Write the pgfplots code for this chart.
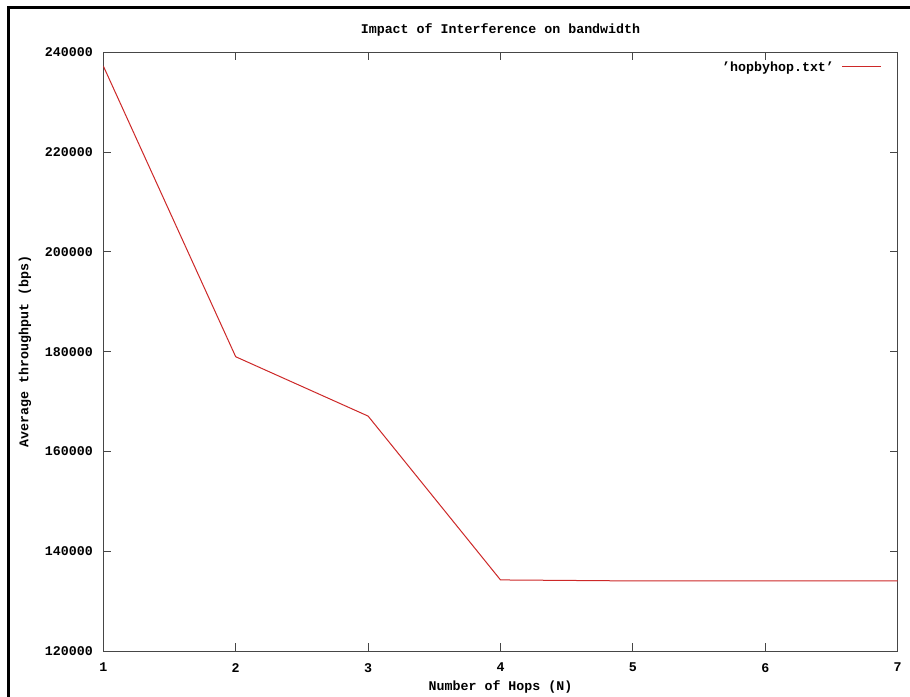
\documentclass[border=0pt]{standalone}
\usepackage{fontspec}
\setmainfont{Liberation Mono}
\usepackage{pgfplots}
\pgfplotsset{compat=1.18}

\definecolor{GRed}{RGB}{205,40,40}
\definecolor{GAxis}{RGB}{70,70,70}

\begin{document}
\begin{tikzpicture}
\useasboundingbox (-103.3pt,-45pt) rectangle (806.7pt,651pt);
\fill[white] (-103.3pt,-45pt) rectangle (806.7pt,651pt);
% outer frame (left and top edges only are visible)
\draw[line width=3.3pt, line cap=rect] (-95pt,-50pt) -- (-95pt,643.3pt) -- (815pt,643.3pt);
\begin{axis}[
  at={(0pt,0pt)}, anchor=south west,
  scale only axis,
  width=794.4pt, height=598.5pt,
  xmin=1, xmax=7, ymin=120000, ymax=240000,
  xtick={1,2,3,4,5,6,7},
  ytick={120000,140000,160000,180000,200000,220000,240000},
  yticklabels={120000,140000,160000,180000,200000,220000,240000},
  scaled y ticks=false,
  tick align=inside,
  major tick length=8pt,
  axis line style={GAxis, line width=1pt},
  tick style={GAxis, line width=1pt},
  font=\fontsize{13.3}{15}\selectfont\bfseries,
  /pgf/number format/assume math mode=true,
  tick label style={font=\fontsize{13.3}{15}\selectfont\bfseries},
  yticklabel style={inner sep=0pt, xshift=-10.3pt},
  xticklabel style={inner sep=0pt, yshift=-12pt},
  every axis title shift=0pt,
  title={Impact of Interference on bandwidth},
  title style={at={(axis description cs:0.5,1.0376)}, anchor=center, inner sep=0pt},
  xlabel={Number of Hops (N)},
  xlabel style={at={(axis description cs:0.5,-0.0593)}, anchor=center, inner sep=0pt},
  ylabel={Average throughput (bps)},
  ylabel style={at={(axis description cs:-0.0986,0.5)}, anchor=center, rotate=0, inner sep=0pt},
  legend plot pos=right,
  legend style={at={(axis description cs:0.9802,0.9758)}, anchor=east, draw=none, fill=none,
    inner sep=0pt, outer sep=0pt, column sep=8pt, nodes={inner sep=0pt},
    font=\fontsize{13.3}{15}\selectfont\bfseries},
  legend image code/.code={\draw[#1] (0pt,0pt) -- (39pt,0pt);},
]
\addplot[color=GRed, line width=1pt] coordinates {
  (1,237300) (2,179000) (3,167100) (4,134250) (5,134050) (6,134050) (7,134050)
};
\addlegendentry{'hopbyhop.txt'}
\end{axis}
\end{tikzpicture}
\end{document}
